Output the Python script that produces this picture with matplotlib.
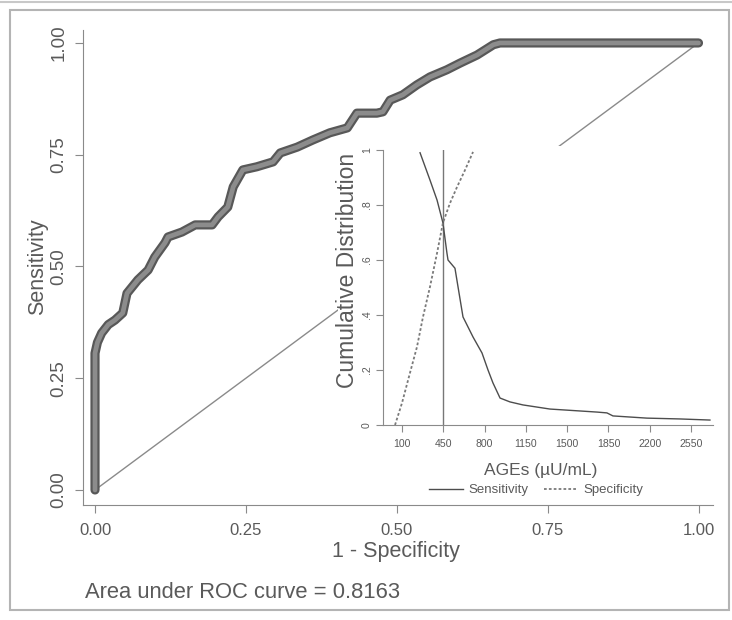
import matplotlib
matplotlib.use("Agg")
import matplotlib.pyplot as plt
import matplotlib.patheffects as pe
from matplotlib.patches import Rectangle
from matplotlib.lines import Line2D

# ── data ───────────────────────────────────────────────────────
roc_fpr = [0.0, 0.0, 0.004, 0.011, 0.022, 0.033, 0.046, 0.053, 0.062, 0.071,
           0.088, 0.099, 0.116, 0.121, 0.144, 0.166, 0.194, 0.204, 0.220, 0.229,
           0.245, 0.268, 0.295, 0.307, 0.335, 0.361, 0.389, 0.418, 0.434, 0.467,
           0.477, 0.489, 0.510, 0.533, 0.555, 0.583, 0.605, 0.633, 0.660, 0.671,
           0.75, 0.85, 0.95, 1.0]
roc_tpr = [0.0, 0.306, 0.330, 0.351, 0.370, 0.380, 0.396, 0.440, 0.455, 0.470,
           0.492, 0.521, 0.553, 0.566, 0.577, 0.593, 0.593, 0.611, 0.633, 0.678,
           0.716, 0.723, 0.734, 0.754, 0.767, 0.783, 0.799, 0.810, 0.843, 0.843,
           0.846, 0.872, 0.884, 0.906, 0.924, 0.940, 0.955, 0.973, 0.996, 1.0,
           1.0, 1.0, 1.0, 1.0]
roc_ticks = [0, 0.25, 0.5, 0.75, 1.0]
roc_tick_labels = ["0.00", "0.25", "0.50", "0.75", "1.00"]
auc = 0.8163

ages_sens = [253, 337, 397, 447, 481, 490, 549, 575, 617, 702, 778, 829, 871,
             931, 1015, 1125, 1354, 1609, 1753, 1837, 1888, 2176, 2456, 2710]
sens = [0.99, 0.891, 0.818, 0.735, 0.625, 0.600, 0.570, 0.502, 0.393, 0.320,
        0.262, 0.200, 0.153, 0.098, 0.084, 0.073, 0.058, 0.051, 0.047, 0.044,
        0.033, 0.025, 0.022, 0.018]
ages_spec = [41, 100, 168, 227, 278, 337, 397, 447, 507, 566, 634, 702]
spec = [0.0, 0.080, 0.190, 0.284, 0.393, 0.502, 0.625, 0.735, 0.807, 0.865,
        0.927, 0.993]
cutoff = 450
ages_ticks = [100, 450, 800, 1150, 1500, 1850, 2200, 2550]
cum_ticks = [0, 0.2, 0.4, 0.6, 0.8, 1.0]
cum_tick_labels = ["0", ".2", ".4", ".6", ".8", "1"]

# ── helpers: pixel -> figure fraction ──────────────────────────
W, H = 732, 620
def fx(px):
    return px / W
def fy(py):
    return 1 - py / H

plt.rcParams["font.family"] = ["Liberation Sans", "DejaVu Sans"]
TXT = "#5a5a5a"
AXC = "#8a8a8a"

fig = plt.figure(figsize=(7.32, 6.2), dpi=100)

# outer frame
fig.patches.append(Rectangle((fx(10), fy(610)), fx(729) - fx(10), fy(10) - fy(610),
                             transform=fig.transFigure, fill=False,
                             ec="#b4b4b4", lw=1.5))
fig.lines.append(Line2D([0, 1], [fy(2), fy(2)], transform=fig.transFigure,
                        color="#c8c8c8", lw=1.5))

# ─ main ROC plot ─
ax = fig.add_axes([fx(83), fy(505), fx(713) - fx(83), fy(30) - fy(505)])
ax.set_xlim(-0.0199, 1.024)
ax.set_ylim(-0.0336, 1.029)
ax.plot([0, 1], [0, 1], color=AXC, lw=1)
ax.plot(roc_fpr, roc_tpr, color="#8c8c8c", lw=3.4, solid_capstyle="round",
        solid_joinstyle="round",
        path_effects=[pe.Stroke(linewidth=6.6, foreground="#585858"), pe.Normal()])
for s in ["top", "right"]:
    ax.spines[s].set_visible(False)
for s in ["left", "bottom"]:
    ax.spines[s].set_color(AXC)
ax.set_xticks(roc_ticks)
ax.set_xticklabels(roc_tick_labels)
ax.set_yticks(roc_ticks)
ax.set_yticklabels(roc_tick_labels, rotation=90, va="center")
ax.tick_params(direction="out", length=6, color=AXC, labelcolor=TXT)
ax.tick_params(axis="x", labelsize=12, pad=7)
ax.tick_params(axis="y", labelsize=13.5, pad=5)

fig.text(fx(38), fy(267), "Sensitivity", rotation=90, ha="center", va="center",
         fontsize=15.5, color=TXT)
fig.text(fx(396), fy(551), "1 - Specificity", ha="center", va="center",
         fontsize=15.5, color=TXT)
fig.text(fx(85), fy(592), f"Area under ROC curve = {auc:.4f}", ha="left",
         va="center", fontsize=15.8, color=TXT)

# ─ inset: white background ─
bg = fig.add_axes([fx(338), fy(500), fx(722) - fx(338), fy(146) - fy(500)], zorder=2)
bg.set_facecolor("white")
bg.set_xticks([])
bg.set_yticks([])
for s in bg.spines.values():
    s.set_visible(False)

# ─ inset: cumulative distribution ─
ins = fig.add_axes([fx(383), fy(425), fx(713) - fx(383), fy(150) - fy(425)], zorder=3)
ins.patch.set_visible(False)
ins.set_xlim(-61, 2736)
ins.set_ylim(0, 1)
ins.axvline(cutoff, color="#777777", lw=1)
ins.plot(ages_sens, sens, color="#4d4d4d", lw=1, label="Sensitivity")
ins.plot(ages_spec, spec, color="#7a7a7a", lw=1.3, ls=(0, (1.5, 1.2)),
         label="Specificity")
for s in ["top", "right"]:
    ins.spines[s].set_visible(False)
for s in ["left", "bottom"]:
    ins.spines[s].set_color(AXC)
ins.set_xticks(ages_ticks)
ins.set_yticks(cum_ticks)
ins.set_yticklabels(cum_tick_labels, rotation=90, va="center")
ins.tick_params(direction="out", length=5, color=AXC, labelcolor=TXT)
ins.tick_params(axis="x", labelsize=7.6, pad=5)
ins.tick_params(axis="y", labelsize=7.6, pad=3)

fig.text(fx(348), fy(270), "Cumulative Distribution", rotation=90, ha="center",
         va="center", fontsize=16.5, color=TXT, zorder=4)
fig.text(fx(541), fy(470), "AGEs (µU/mL)", ha="center", va="center",
         fontsize=12.5, color=TXT, zorder=4)
leg = ins.legend(loc="center", bbox_to_anchor=(fx(536), fy(490)),
                 bbox_transform=fig.transFigure, ncol=2, frameon=False,
                 fontsize=9.5, handlelength=2.6, columnspacing=1.2,
                 handletextpad=0.4)
for t in leg.get_texts():
    t.set_color(TXT)

fig.savefig("out.png", dpi=100)
plt.close(fig)
